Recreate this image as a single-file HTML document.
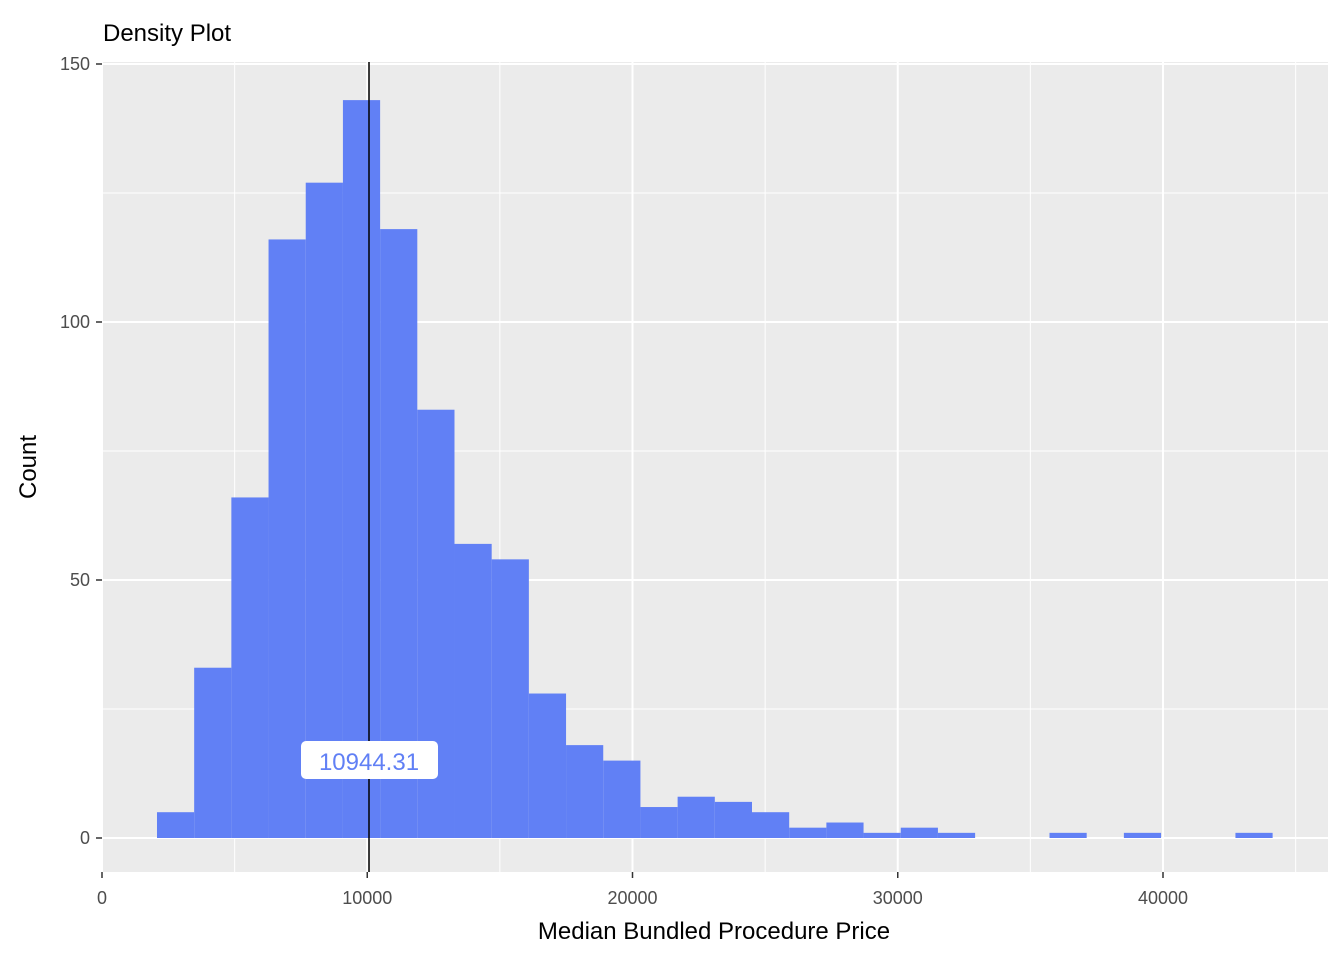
<!DOCTYPE html>
<html><head><meta charset="utf-8"><style>
body{margin:0;background:#fff;font-family:"Liberation Sans",sans-serif}
</style></head><body>
<svg id="chart" width="1344" height="960" xmlns="http://www.w3.org/2000/svg">
<text x="103" y="41" font-size="24" fill="#000">Density Plot</text>
<rect x="102" y="62" width="1226" height="810" fill="#ebebeb"/>
<g id="grid"></g>
<g id="bars"></g>
<g id="axes"></g>
<text x="714" y="939" font-size="24" text-anchor="middle" fill="#000">Median Bundled Procedure Price</text>
<text transform="translate(36,467) rotate(-90)" font-size="24" text-anchor="middle" fill="#000">Count</text>
</svg>
<script>
const binStart = 2073;
const binWidth = 1402;
const counts = [5,33,66,116,127,143,118,83,57,54,28,18,15,6,8,7,5,2,3,1,2,1,0,0,1,0,1,0,0,1];
const xTicks = [0,10000,20000,30000,40000];
const xMinor = [5000,15000,25000,35000,45000];
const yTicks = [0,50,100,150];
const yMinor = [25,75,125];
const lineValue = 10066;
const lineLabel = "10944.31";
const X0=102, XS=0.026525, Y0=838, YS=5.16;
const sx=v=>X0+v*XS, sy=v=>Y0-v*YS;
const NS="http://www.w3.org/2000/svg";
function mk(t,a,p){const e=document.createElementNS(NS,t);for(const k in a)e.setAttribute(k,a[k]);p.appendChild(e);return e;}
const grid=document.getElementById('grid'),bars=document.getElementById('bars'),axes=document.getElementById('axes');
yMinor.forEach(v=>{const l=mk('line',{x1:102,x2:1328,y1:sy(v),y2:sy(v),stroke:'#fff','stroke-width':1},grid);

});
xMinor.forEach(v=>{const l=mk('line',{x1:sx(v),x2:sx(v),y1:62,y2:872,stroke:'#fff','stroke-width':1},grid);

});
yTicks.forEach(v=>{const l=mk('line',{x1:102,x2:1328,y1:sy(v),y2:sy(v),stroke:'#fff','stroke-width':2},grid);


mk('line',{x1:96,x2:102,y1:sy(v),y2:sy(v),stroke:'#333','stroke-width':1.5},axes);
const t=mk('text',{x:90,y:sy(v)+6,'font-size':18,'text-anchor':'end',fill:'#4d4d4d'},axes);t.textContent=v;

});
xTicks.forEach(v=>{const l=mk('line',{x1:sx(v),x2:sx(v),y1:62,y2:872,stroke:'#fff','stroke-width':2},grid);


mk('line',{x1:sx(v),x2:sx(v),y1:872,y2:878,stroke:'#333','stroke-width':1.5},axes);
const t=mk('text',{x:sx(v),y:904,'font-size':18,'text-anchor':'middle',fill:'#4d4d4d'},axes);t.textContent=v;

});
counts.forEach((c,i)=>{if(!c)return;const x=sx(binStart+i*binWidth),x2=sx(binStart+(i+1)*binWidth);
const r=mk('rect',{x:x,y:sy(c),width:x2-x,height:sy(0)-sy(c),fill:'#6180f5'},bars);

});
const ml=mk('line',{x1:sx(lineValue),x2:sx(lineValue),y1:62,y2:872,stroke:'#000','stroke-width':1.5},bars);


const lx=sx(lineValue);
const lb=mk('rect',{x:lx-68,y:741,width:137,height:38,rx:5,fill:'#fff'},bars);


const lt=mk('text',{x:lx,y:770,'font-size':24,'text-anchor':'middle',fill:'#6180f5'},bars);lt.textContent=lineLabel;


</script>
</body></html>
